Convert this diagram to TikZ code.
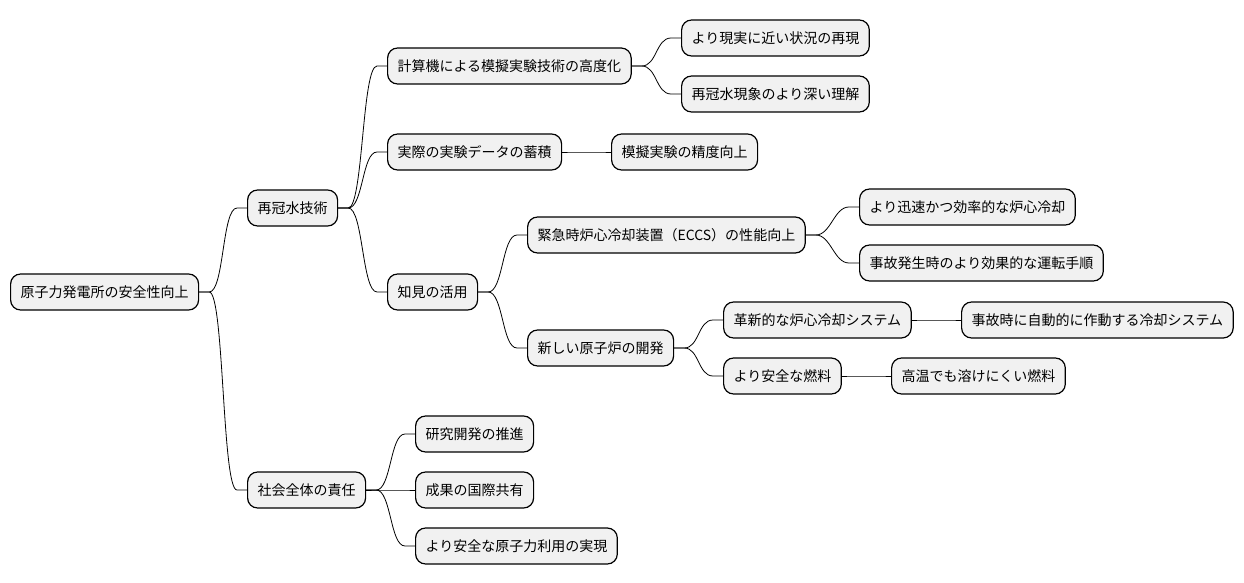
\documentclass[tikz,border=0pt]{standalone}
\usepackage{fontspec}
\setmainfont{Noto Sans CJK JP}
\usepackage{xcolor}
\usetikzlibrary{calc}
\usetikzlibrary{graphs}
\definecolor{boxfill}{HTML}{F1F1F1}
\tikzset{
	topic/.style={
			draw, fill=boxfill, rounded corners=10pt, line width=1.2pt,
			minimum height=36pt, inner xsep=10pt, anchor=west,
			font=\fontsize{14}{16}\selectfont
		},
	branch/.style={
			line width=0.8pt,
			to path={(\tikztostart.east) -- ++(10,0) .. controls +(15,0) and +(-15,0) .. ($(\tikztotarget.west)+(-10,0)$) -- (\tikztotarget.west)}
		}
}

\begin{document}
\begin{tikzpicture}[x=1pt, y=-1pt]
	\useasboundingbox (0,0) rectangle (1244,583);
	\graph[no placement, nodes={topic}, edges={branch}]{
		root/原子力発電所の安全性向上[at={(10,292)}] -- tech/再冠水技術[at={(247,208)}] -- calc/計算機による模擬実験技術の高度化[at={(387,66)}] -- real/より現実に近い状況の再現[at={(681,38)}];
		calc -- deep/再冠水現象のより深い理解[at={(681,94)}];
		tech -- data/実際の実験データの蓄積[at={(387,152)}] -- acc/模擬実験の精度向上[at={(611,152)}];
		tech -- use/知見の活用[at={(387,292)}] -- eccs/緊急時炉心冷却装置（ECCS）の性能向上[at={(527,235)}] -- fast/より迅速かつ効率的な炉心冷却[at={(859,207)}];
		eccs -- proc/事故発生時のより効果的な運転手順[at={(859,263)}];
		use -- newr/新しい原子炉の開発[at={(527,348)}] -- cool/革新的な炉心冷却システム[at={(723,320)}] -- auto/事故時に自動的に作動する冷却システム[at={(961,320)}];
		newr -- fuel/より安全な燃料[at={(723,376)}] -- melt/高温でも溶けにくい燃料[at={(891,376)}];
		root -- soc/社会全体の責任[at={(247,490)}] -- rd/研究開発の推進[at={(415,434)}];
		soc -- share/成果の国際共有[at={(415,490)}];
		soc -- safe/より安全な原子力利用の実現[at={(415,546)}];
	};
\end{tikzpicture}
\end{document}
